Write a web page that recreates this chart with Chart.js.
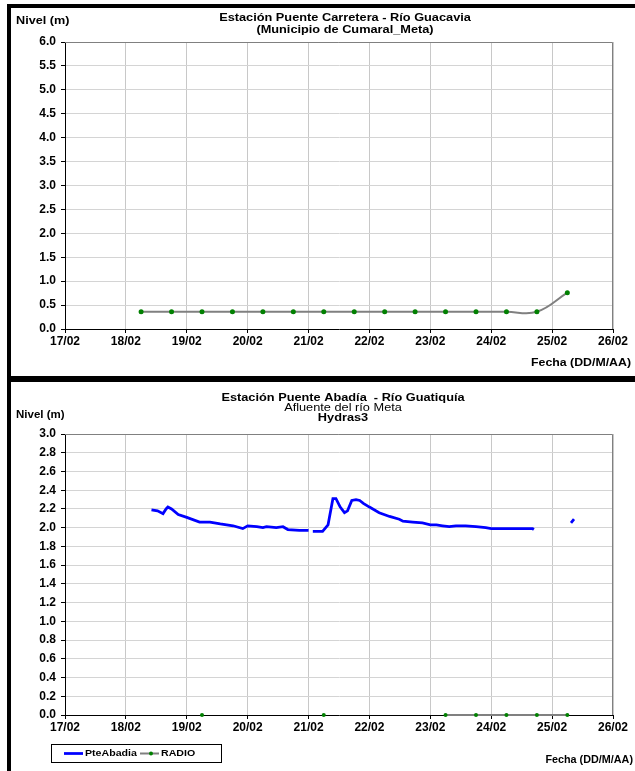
<!DOCTYPE html>
<html>
<head>
<meta charset="utf-8">
<script src="https://cdn.jsdelivr.net/npm/chart.js@4.4.1/dist/chart.umd.min.js"></script>
<style>
  body { margin: 0; background: #fff; width: 635px; height: 771px; overflow: hidden; position: relative; }
  .box { position: absolute; left: 0; width: 635px; }
  .bar { position: absolute; background: #000; }
</style>
</head>
<body>
<div class="box" style="top:0;height:376px"><canvas id="carretera" width="635" height="376"></canvas></div>
<div class="box" style="top:382px;height:389px"><canvas id="abadia" width="635" height="389"></canvas></div>
<div class="bar" style="left:7px;top:4px;width:628px;height:4px"></div>
<div class="bar" style="left:7px;top:4px;width:4px;height:767px"></div>
<div class="bar" style="left:7px;top:376px;width:628px;height:6px"></div>
<script>
// --- data (x = day of February) ---
const carreteraRadioDays = [18.25, 18.75, 19.25, 19.75, 20.25, 20.75, 21.25, 21.75, 22.25, 22.75, 23.25, 23.75, 24.25, 24.75, 25.25];
const carreteraRadioLevels = [0.36, 0.36, 0.36, 0.36, 0.36, 0.36, 0.36, 0.36, 0.36, 0.36, 0.36, 0.36, 0.36, 0.36, 0.76];

const abadiaDays = [18.42, 18.52, 18.61, 18.66, 18.69, 18.75, 18.86, 19.00, 19.21, 19.38, 19.55, 19.76, 19.92, 20.00,
  20.15, 20.25, 20.31, 20.47, 20.58, 20.66, 20.85, 21.00, 21.03, 21.07, 21.23, 21.32, 21.40, 21.45, 21.52, 21.59,
  21.64, 21.71, 21.78, 21.84, 21.90, 22.00, 22.16, 22.33, 22.49, 22.55, 22.71, 22.87, 23.00, 23.10, 23.20, 23.31,
  23.42, 23.58, 23.75, 23.91, 24.00, 24.68, 24.70, 25.28, 25.31, 25.36];
const abadiaLevels = [2.19, 2.18, 2.15, 2.20, 2.22, 2.20, 2.14, 2.11, 2.06, 2.06, 2.04, 2.02, 1.99, 2.02,
  2.01, 2.00, 2.01, 2.00, 2.01, 1.98, 1.97, 1.97, null, 1.96, 1.96, 2.03, 2.31, 2.31, 2.22, 2.16,
  2.18, 2.29, 2.30, 2.29, 2.26, 2.22, 2.16, 2.12, 2.09, 2.07, 2.06, 2.05, 2.03, 2.03, 2.02, 2.01,
  2.02, 2.02, 2.01, 2.00, 1.99, 1.99, 1.98, null, 2.05, 2.09];

const abadiaRadioDays = [19.25, 19.75, 20.25, 20.75, 21.25, 21.75, 22.25, 22.75, 23.25, 23.75, 24.25, 24.75, 25.25];
const abadiaRadioLevels = [0, null, null, null, 0, null, null, null, 0, 0, 0, 0, 0];

const pairs = (xs, ys) => xs.map((x, i) => ({x: x, y: ys[i]}));

const FONT = "'Liberation Sans', Arial, sans-serif";
Chart.defaults.font.family = FONT;
Chart.defaults.font.size = 12;
Chart.defaults.font.weight = 'bold';
Chart.defaults.color = '#000';

// the source text is a bit wider than it is tall, so stretch it sideways
function wideText(ctx, text, x, y, align, font, sx) {
  ctx.save();
  ctx.translate(x, y);
  ctx.scale(sx, 1);
  ctx.font = font;
  ctx.textAlign = align;
  ctx.fillText(text, 0, 0);
  ctx.restore();
}

// titles, axis captions and legend box drawn on top of the chart
const framePlugin = {
  id: 'frame',
  afterDraw(chart, args, o) {
    const ctx = chart.ctx, a = chart.chartArea;
    ctx.save();
    ctx.strokeStyle = '#808080';
    ctx.lineWidth = 1;
    ctx.beginPath();
    ctx.moveTo(a.left, a.top + 0.5);
    ctx.lineTo(a.right - 0.5, a.top + 0.5);
    ctx.lineTo(a.right - 0.5, a.bottom);
    ctx.stroke();

    ctx.fillStyle = '#000';
    ctx.textBaseline = 'middle';
    o.titles.forEach(t => wideText(ctx, t.text, o.titleX, t.y, 'center', t.font, 1.16));
    wideText(ctx, 'Nivel (m)', o.yX, o.yY, 'left', o.yFont, 1.15);
    wideText(ctx, 'Fecha (DD/M/AA)', o.xX, o.xY, 'right', o.xFont, o.xStretch);

    if (o.legend) {
      const L = o.legend;
      ctx.strokeStyle = '#000';
      ctx.lineWidth = 1;
      ctx.strokeRect(L.x + 0.5, L.y + 0.5, L.w, L.h);
      const cy = L.y + L.h / 2 + 0.5;
      chart.data.datasets.forEach((ds, i) => {
        const sx = L.items[i];
        ctx.strokeStyle = ds.borderColor;
        ctx.lineWidth = ds.borderWidth;
        ctx.beginPath();
        ctx.moveTo(sx, cy);
        ctx.lineTo(sx + 19, cy);
        ctx.stroke();
        if (ds.pointRadius > 0) {
          ctx.fillStyle = ds.pointBackgroundColor;
          ctx.beginPath();
          ctx.arc(sx + 11, cy, 2, 0, Math.PI * 2);
          ctx.fill();
        }
        ctx.fillStyle = '#000';
        wideText(ctx, ds.label, sx + 21, cy, 'left', L.font, 1.18);
      });
    }
    ctx.restore();
  }
};

function makeScales(yMax, yStep) {
  return {
    x: {
      type: 'linear', min: 17, max: 26,
      afterFit: s => { s.height = 20; },
      ticks: {stepSize: 1, maxRotation: 0, autoSkip: false, padding: 1,
        callback: v => String(v).padStart(2, '0') + '/02'},
      grid: {color: '#c8c8c8', tickColor: '#000', tickLength: 4},
      border: {color: '#000', width: 1}
    },
    y: {
      min: 0, max: yMax,
      afterFit: s => { s.width = 50; },
      ticks: {stepSize: yStep, padding: 5, callback: v => v.toFixed(1)},
      grid: {color: '#d4d4d4', tickColor: '#000', tickLength: 4},
      border: {color: '#000', width: 1}
    }
  };
}

new Chart(document.getElementById('carretera'), {
  type: 'line',
  data: {
    datasets: [{
      label: 'RADIO',
      data: pairs(carreteraRadioDays, carreteraRadioLevels),
      borderColor: '#808080',
      borderWidth: 2,
      tension: 0.4,
      pointRadius: 2.5,
      pointBackgroundColor: '#008000',
      pointBorderColor: '#008000',
      pointBorderWidth: 0,
      clip: false
    }]
  },
  options: {
    responsive: false,
    animation: false,
    layout: {padding: {left: 15, right: 22, top: 42, bottom: 27}},
    scales: makeScales(6, 0.5),
    plugins: {
      legend: {display: false},
      tooltip: {enabled: false},
      frame: {
        titleX: 345,
        titles: [
          {text: 'Estación Puente Carretera - Río Guacavia', font: 'bold 11px ' + FONT, y: 18},
          {text: '(Municipio de Cumaral_Meta)', font: 'bold 11px ' + FONT, y: 30},
        ],
        yFont: 'bold 11px ' + FONT, yX: 16, yY: 21,
        xFont: 'bold 11px ' + FONT, xX: 631, xY: 363, xStretch: 1.12
      }
    }
  },
  plugins: [framePlugin]
});

new Chart(document.getElementById('abadia'), {
  type: 'line',
  data: {
    datasets: [{
      label: 'PteAbadia',
      data: pairs(abadiaDays, abadiaLevels),
      borderColor: '#0000ff',
      borderWidth: 2.75,
      tension: 0,
      pointRadius: 0
    }, {
      label: 'RADIO',
      data: pairs(abadiaRadioDays, abadiaRadioLevels),
      borderColor: '#808080',
      borderWidth: 2,
      tension: 0,
      pointRadius: 2,
      pointBackgroundColor: '#008000',
      pointBorderColor: '#008000',
      pointBorderWidth: 0,
      clip: false
    }]
  },
  options: {
    responsive: false,
    animation: false,
    layout: {padding: {left: 15, right: 22, top: 52, bottom: 36}},
    scales: makeScales(3, 0.2),
    plugins: {
      legend: {display: false},
      tooltip: {enabled: false},
      frame: {
        titleX: 343,
        titles: [
          {text: 'Estación Puente Abadía  - Río Guatiquía', font: 'bold 11px ' + FONT, y: 16},
          {text: 'Afluente del río Meta', font: '11px ' + FONT, y: 26},
          {text: 'Hydras3', font: 'bold 11px ' + FONT, y: 36}
        ],
        yFont: 'bold 10px ' + FONT, yX: 16, yY: 33,
        xFont: 'bold 10px ' + FONT, xX: 633, xY: 378, xStretch: 1.08,
        legend: {x: 51, y: 362, w: 170, h: 18, font: 'bold 9px ' + FONT, items: [64, 140]}
      }
    }
  },
  plugins: [framePlugin]
});
</script>
</body>
</html>
